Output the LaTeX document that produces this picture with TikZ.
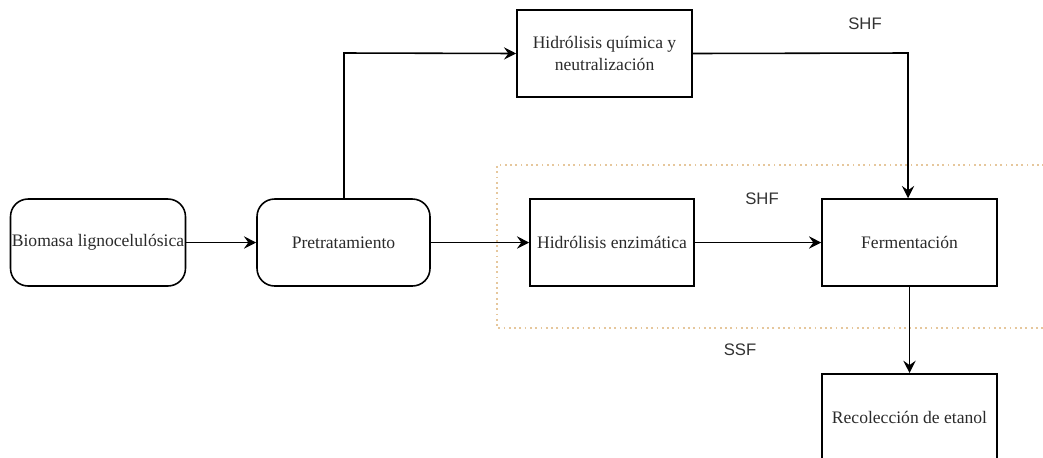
\documentclass[tikz,border=0pt]{standalone}
\usepackage{fontspec}
\setmainfont{Liberation Serif}
\newfontfamily\lblfont{Liberation Sans}
\usetikzlibrary{arrows.meta}
\definecolor{dotcol}{HTML}{E6C79C}
\definecolor{txt}{HTML}{2A2A2A}
\begin{document}
\begin{tikzpicture}[x=0.02cm,y=-0.02cm,
  box/.style={draw,line width=0.9pt,minimum width=3.5cm,minimum height=1.74cm,inner sep=0pt,font=\fontsize{10}{12.2}\selectfont,text=txt,align=center},
  rbox/.style={box,rounded corners=10pt},
  conn/.style={line width=0.9pt,-{Stealth[length=7pt,width=7pt,inset=2.5pt]}},
  lbl/.style={font=\lblfont\fontsize{9.5}{11}\selectfont,text=black!80}]
\useasboundingbox (0,0) rectangle (1043,457);
\clip (0,0) rectangle (1043,457);
% dotted region
\draw[dotcol,line width=1pt,dotted] (1060,165) -- (497,165) -- (497,328) -- (1060,328);
% nodes
\node[rbox] (bio) at (98,242.5) {Biomasa lignocelulósica};
\node[rbox,minimum width=3.46cm] (pre) at (343.5,242.5) {Pretratamiento};
\node[box] (quim) at (604.5,53.5) {Hidrólisis química y\\neutralización};
\node[box,minimum width=3.28cm] (enz) at (612,242.5) {Hidrólisis enzimática};
\node[box] (fer) at (909.5,242.5) {Fermentación};
\node[box,anchor=north] (rec) at (909.5,373) {Recolección de etanol};
\coordinate (c1) at (344,53);
\coordinate (c2) at (908,53);
% connectors
\draw[conn] (bio) -- (pre);
\draw[conn] (pre.north -| c1) -- (c1) -- (quim.west);
\draw[conn] (quim.east) -- (c2) -- (fer.north -| c2);
\draw[conn] (pre) -- (enz);
\draw[conn] (enz) -- (fer);
\draw[conn] (fer) -- (rec);
% labels
\node[lbl] (l1) at (865,24) {SHF};
\node[lbl] (l2) at (762,199) {SHF};
\node[lbl] (l3) at (740,350) {SSF};
\end{tikzpicture}
\end{document}
